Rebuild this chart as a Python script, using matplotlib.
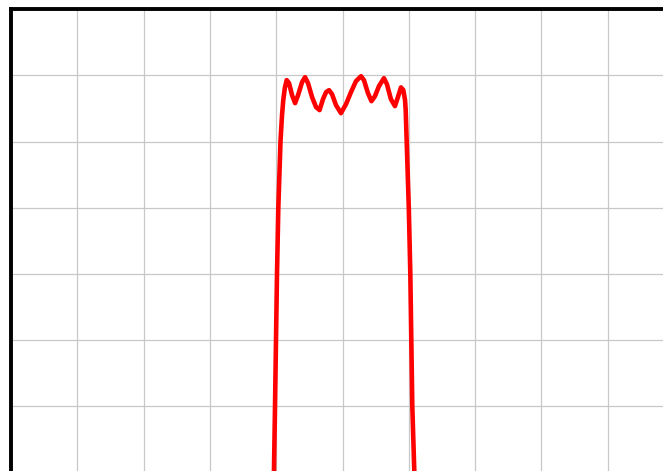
import matplotlib
matplotlib.use('Agg')
import matplotlib.pyplot as plt

# band-pass response (x in grid divisions, y in dB)
freq = [3.964, 3.982, 3.997, 4.012, 4.032, 4.065, 4.088, 4.107, 4.130, 4.158,
        4.194, 4.239, 4.285, 4.330, 4.390, 4.435, 4.480, 4.541, 4.601, 4.654,
        4.706, 4.752, 4.797, 4.842, 4.902, 4.977, 5.053, 5.128, 5.203, 5.279,
        5.324, 5.384, 5.437, 5.490, 5.550, 5.625, 5.670, 5.730, 5.791, 5.836,
        5.882, 5.917, 5.943, 5.953, 5.968, 6.000, 6.023, 6.038, 6.053, 6.087]
gain = [-71.1, -60.0, -49.95, -40.0, -30.0, -19.9, -15.97, -13.7, -11.9, -10.7,
        -11.16, -12.97, -14.18, -12.97, -11.01, -10.26, -11.16, -13.27, -14.78, -15.23,
        -13.57, -12.52, -12.22, -12.82, -14.48, -15.69, -14.33, -12.52, -10.86, -10.11,
        -10.71, -12.67, -13.88, -13.12, -11.61, -10.41, -11.31, -13.57, -14.63, -13.27,
        -11.8, -12.2, -13.7, -15.2, -19.9, -30.0, -40.0, -50.0, -60.0, -71.1]

fig = plt.figure(figsize=(6.63, 4.71), dpi=100)
ax = fig.add_axes([11 / 663, -0.0036, 1.0, 0.9839])

ax.plot(freq, gain, color='red', linewidth=3.3, solid_joinstyle='round')

ax.set_xlim(0, 10)
ax.set_ylim(-70, 0)
ax.set_xticks(range(0, 11))
ax.set_yticks(range(-70, 1, 10))
ax.grid(True, color='#c8c8c8', linewidth=0.9)
ax.tick_params(length=0, labelbottom=False, labelleft=False)
for s in ['left', 'top']:
    ax.spines[s].set_linewidth(2.8)
    ax.spines[s].set_color('black')

fig.savefig('out.png', dpi=100)
